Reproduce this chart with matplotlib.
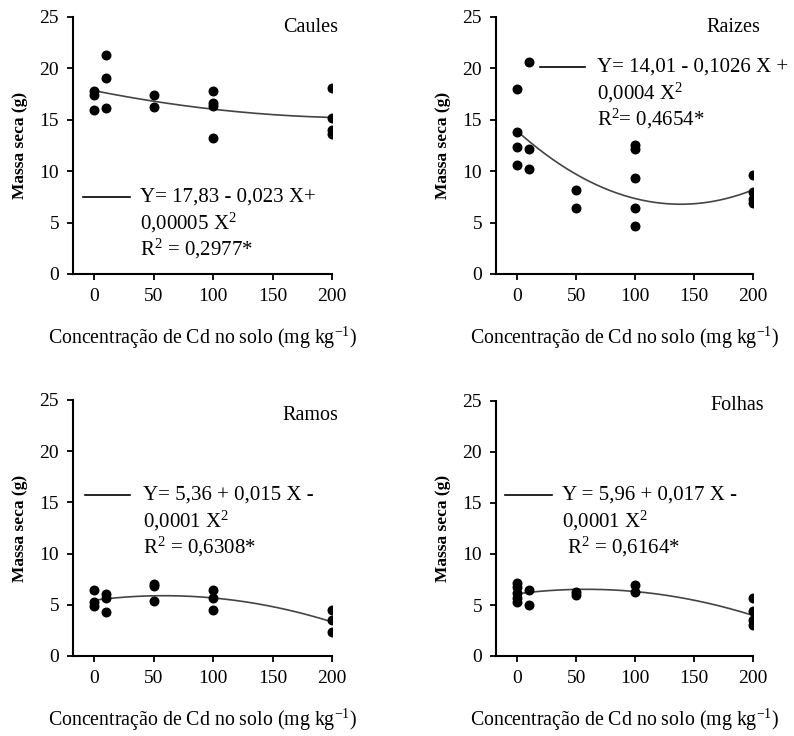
import numpy as np
import matplotlib.pyplot as plt

plt.rcParams['font.family'] = ['Liberation Serif', 'DejaVu Serif']
plt.rcParams['mathtext.fontset'] = 'custom'
plt.rcParams['mathtext.rm'] = 'Liberation Serif'
plt.rcParams['mathtext.it'] = 'Liberation Serif:italic'
plt.rcParams['mathtext.bf'] = 'Liberation Serif:bold'

# Data (dose of Cd in soil, dry mass)
caules_x = [0, 0, 0, 10, 10, 10, 50, 50, 100, 100, 100, 100, 200, 200, 200, 200]
caules_y = [16.0, 17.4, 17.8, 21.3, 19.1, 16.1, 17.4, 16.2, 17.8, 16.6, 16.3, 13.2, 18.1, 15.2, 14.0, 13.6]

raizes_x = [0, 0, 0, 0, 10, 10, 10, 50, 50, 100, 100, 100, 100, 100, 200, 200, 200, 200]
raizes_y = [18.0, 13.8, 12.4, 10.6, 20.6, 12.2, 10.2, 8.2, 6.4, 12.5, 12.2, 9.3, 6.4, 4.7, 9.6, 8.0, 7.3, 6.9]

ramos_x = [0, 0, 0, 10, 10, 10, 50, 50, 50, 100, 100, 100, 200, 200, 200]
ramos_y = [6.4, 5.3, 4.9, 6.1, 5.7, 4.3, 7.0, 6.8, 5.4, 6.4, 5.7, 4.5, 4.5, 3.5, 2.3]

folhas_x = [0, 0, 0, 0, 0, 10, 10, 50, 50, 100, 100, 200, 200, 200, 200]
folhas_y = [7.2, 6.8, 6.2, 5.7, 5.3, 6.5, 5.0, 6.3, 6.0, 7.0, 6.3, 5.7, 4.4, 3.5, 3.0]

# fitted curves (intercept, X, X^2) as drawn in the figure
caules_fit = [17.83, -0.023, 0.00005]
raizes_fit = [13.9, -0.1026, 0.00037]
ramos_fit = [5.45, 0.015, -0.000128]
folhas_fit = [6.1, 0.015, -0.000128]

titles = ['Caules', 'Raizes', 'Ramos', 'Folhas']
eq_lines = [
    ['Y= 17,83 - 0,023 X+', '0,00005 X$^2$', 'R$^2$ = 0,2977*'],
    ['Y= 14,01 - 0,1026 X +', '0,0004 X$^2$', 'R$^2$= 0,4654*'],
    ['Y= 5,36 + 0,015 X -', '0,0001 X$^2$', 'R$^2$ = 0,6308*'],
    ['Y = 5,96 + 0,017 X -', '0,0001 X$^2$', ' R$^2$ = 0,6164*'],
]
xticks = [0, 50, 100, 150, 200]
yticks = [0, 5, 10, 15, 20, 25]

fig = plt.figure(figsize=(7.94, 7.36), dpi=100)

W, H = 794, 736
# axes boxes in pixels: left, top(y of 25), right, bottom(y of 0)
boxes = [(73, 17, 332, 274), (496, 17, 753, 274), (73, 400, 332, 656), (496, 401, 753, 656)]
# legend line (x0, x1, y) and text x, in pixels
legends = [(83, 130, 197, 140), (540, 585, 67, 597), (85, 130, 495, 143), (505, 552, 495, 562)]
title_pos = [(338, 28), (760, 28), (338, 415), (764, 405)]

series = [(caules_x, caules_y, caules_fit), (raizes_x, raizes_y, raizes_fit),
          (ramos_x, ramos_y, ramos_fit), (folhas_x, folhas_y, folhas_fit)]

for i, (l, t, r, b) in enumerate(boxes):
    ax = fig.add_axes([l / W, 1 - b / H, (r - l) / W, (b - t) / H])
    xs, ys, coef = series[i]
    ax.scatter(xs, ys, s=38, color='black', zorder=3)
    xf = np.linspace(0, 200, 200)
    yf = coef[0] + coef[1] * xf + coef[2] * xf ** 2
    ax.plot(xf, yf, color='#444444', lw=1.2)

    ax.set_xlim(-18, 200)
    ax.set_ylim(0, 25)
    ax.set_xticks(xticks)
    ax.set_yticks(yticks)
    ax.spines['top'].set_visible(False)
    ax.spines['right'].set_visible(False)
    for s in ('left', 'bottom'):
        ax.spines[s].set_linewidth(1.5)
    ax.tick_params(direction='out', length=4, width=1.3, labelsize=14, pad=6)
    ax.set_ylabel('Massa seca (g)', fontsize=12.5, fontweight='bold', labelpad=8)
    ax.set_xlabel('Concentração de Cd no solo (mg kg$^{-1}$)', fontsize=14.3, labelpad=14)

    tx, ty = title_pos[i]
    fig.text(tx / W, 1 - ty / H, titles[i], ha='right', va='center', fontsize=14.5)

    x0, x1, ly, textx = legends[i]
    fig.add_artist(plt.Line2D([x0 / W, x1 / W], [1 - ly / H, 1 - ly / H], color='black', lw=1.2))
    for k, line in enumerate(eq_lines[i]):
        fig.text(textx / W, 1 - (ly + 26 * k) / H, line, ha='left', va='center', fontsize=15)

fig.savefig('out.png', dpi=100)
